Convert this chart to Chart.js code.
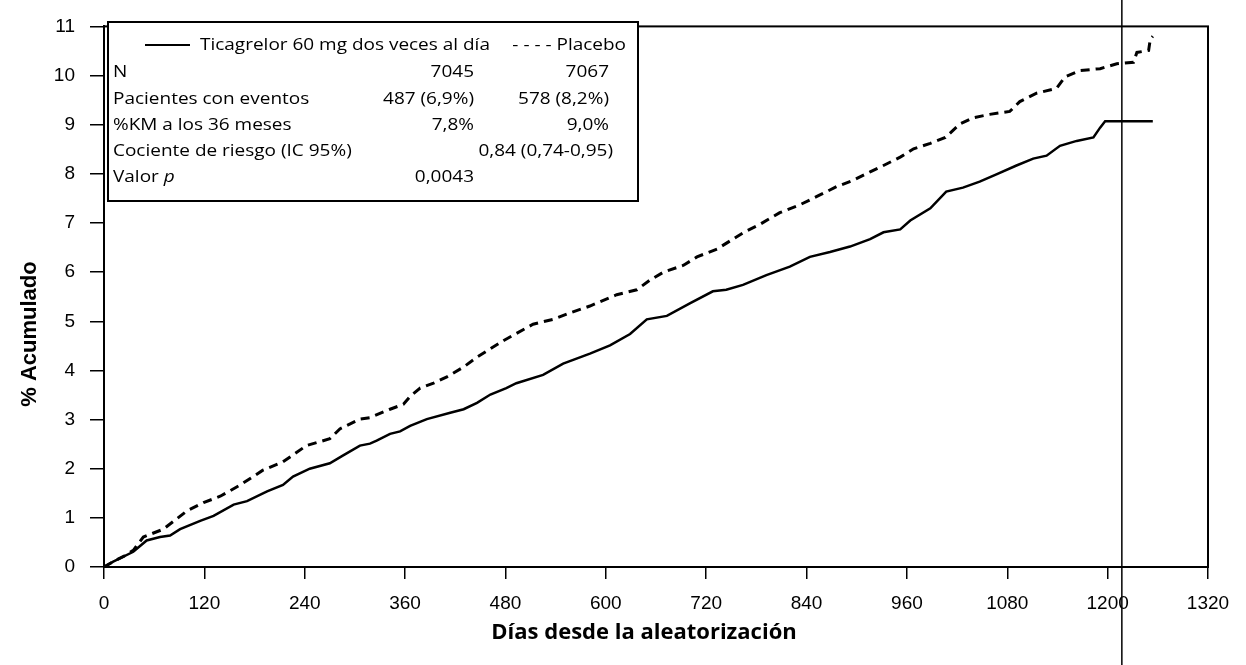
<!DOCTYPE html>
<html>
<head>
<meta charset="utf-8">
<script src="https://cdn.jsdelivr.net/npm/chart.js@4/dist/chart.umd.min.js"></script>
<style>
  html, body { margin: 0; padding: 0; background: #fff; }
  #wrap { width: 1246px; height: 665px; position: relative; }
</style>
</head>
<body>
<div id="wrap"><canvas id="km"></canvas></div>
<script>
// Ticagrelor 60 mg (solid) - days and cumulative %
const ticaDays = [0, 11, 35, 51, 67, 79, 91, 115, 131, 155, 171, 195, 214, 226, 246, 270, 286, 306, 318, 326, 342, 354, 366, 386, 414, 430, 446, 462, 481, 493, 525, 549, 581, 605, 629, 649, 673, 701, 728, 744, 764, 792, 820, 844, 868, 892, 916, 932, 952, 964, 988, 1007, 1027, 1047, 1067, 1091, 1111, 1127, 1143, 1163, 1183, 1191, 1197, 1254];
const ticaPct = [0, 0.11, 0.31, 0.54, 0.61, 0.64, 0.77, 0.94, 1.04, 1.27, 1.34, 1.54, 1.67, 1.84, 2.0, 2.11, 2.27, 2.47, 2.51, 2.57, 2.71, 2.76, 2.87, 3.01, 3.14, 3.21, 3.34, 3.51, 3.64, 3.74, 3.91, 4.14, 4.34, 4.51, 4.74, 5.04, 5.11, 5.37, 5.61, 5.64, 5.74, 5.94, 6.11, 6.31, 6.41, 6.52, 6.67, 6.81, 6.87, 7.05, 7.3, 7.64, 7.72, 7.84, 7.99, 8.17, 8.31, 8.37, 8.57, 8.67, 8.74, 8.94, 9.07, 9.07];

// Placebo (dashed)
const placDays = [0, 11, 24, 35, 47, 71, 99, 119, 139, 163, 190, 214, 242, 270, 282, 306, 318, 342, 358, 366, 378, 394, 410, 430, 446, 462, 478, 513, 537, 557, 581, 613, 637, 653, 669, 693, 709, 733, 765, 784, 808, 832, 856, 876, 896, 916, 932, 952, 968, 988, 1006, 1023, 1039, 1059, 1083, 1095, 1115, 1139, 1149, 1167, 1191, 1211, 1231, 1235, 1249, 1251, 1254];
const placPct = [0, 0.11, 0.22, 0.34, 0.61, 0.77, 1.14, 1.31, 1.44, 1.67, 1.97, 2.14, 2.47, 2.61, 2.81, 3.01, 3.04, 3.21, 3.31, 3.47, 3.64, 3.74, 3.87, 4.07, 4.27, 4.44, 4.61, 4.94, 5.04, 5.17, 5.31, 5.54, 5.64, 5.84, 6.0, 6.14, 6.31, 6.47, 6.81, 6.97, 7.21, 7.37, 7.57, 7.74, 7.87, 8.04, 8.17, 8.34, 8.51, 8.62, 8.74, 9.01, 9.14, 9.21, 9.27, 9.47, 9.64, 9.74, 9.97, 10.1, 10.14, 10.24, 10.27, 10.47, 10.51, 10.74, 10.8];

const xTicks = [0, 120, 240, 360, 480, 600, 720, 840, 960, 1080, 1200, 1320];
const yTicks = [0, 1, 2, 3, 4, 5, 6, 7, 8, 9, 10, 11];

const seriesNames = ['Ticagrelor 60 mg dos veces al día', 'Placebo'];
// legend table rows: label, ticagrelor column, placebo column
const rowLabels = ['N', 'Pacientes con eventos', '%KM a los 36 meses', 'Cociente de riesgo (IC 95%)', 'Valor '];
const rowTica = ['7045', '487 (6,9%)', '7,8%', '', '0,0043'];
const rowPlac = ['7067', '578 (8,2%)', '9,0%', '0,84 (0,74-0,95)', ''];

const scanLineDay = 1217;

const toPoints = (xs, ys) => xs.map((d, i) => ({ x: d, y: ys[i] }));

const tickFont = { family: '"Liberation Sans", Arial, sans-serif', size: 19 };
const boxFont = '16.5px "Open Sans", sans-serif';
const SX = 1.15; // the box text is set wide

function wideText(ctx, s, x, y, align, font) {
  ctx.save();
  ctx.font = font || boxFont;
  ctx.translate(x, y);
  ctx.scale(SX, 1);
  ctx.textAlign = align;
  ctx.fillText(s, 0, 0);
  const w = ctx.measureText(s).width * SX;
  ctx.restore();
  return w;
}

const extras = {
  id: 'extras',
  afterDraw(chart) {
    const ctx = chart.ctx;
    const a = chart.chartArea;
    ctx.save();
    // frame around the plot
    ctx.strokeStyle = '#000';
    ctx.lineWidth = 2;
    ctx.strokeRect(a.left, a.top, a.right - a.left, a.bottom - a.top);

    // stray vertical line from the scan
    const sx = chart.scales.x.getPixelForValue(scanLineDay);
    ctx.lineWidth = 1.5;
    ctx.beginPath();
    ctx.moveTo(sx, 0);
    ctx.lineTo(sx, chart.height);
    ctx.stroke();

    // legend / stats box
    const bx = 108, by = 22, bw = 530, bh = 179;
    ctx.fillStyle = '#fff';
    ctx.fillRect(bx, by, bw, bh);
    ctx.lineWidth = 2;
    ctx.strokeRect(bx, by, bw, bh);

    ctx.fillStyle = '#000';
    ctx.textBaseline = 'middle';

    // header row
    const hy = 45;
    ctx.lineWidth = 2;
    ctx.beginPath();
    ctx.moveTo(145, hy);
    ctx.lineTo(190, hy);
    ctx.stroke();
    wideText(ctx, seriesNames[0], 200, hy, 'left');
    wideText(ctx, '- - - - ' + seriesNames[1], 626, hy, 'right');

    const rowY = [72, 99, 125, 151, 177];
    rowLabels.forEach((lab, i) => {
      const y = rowY[i];
      const w = wideText(ctx, lab, 113, y, 'left');
      if (i === 4) wideText(ctx, 'p', 113 + w, y, 'left', 'italic ' + boxFont);
      if (rowTica[i]) wideText(ctx, rowTica[i], 474, y, 'right');
      if (rowPlac[i]) wideText(ctx, rowPlac[i], i === 3 ? 613 : 609, y, 'right');
    });

    // axis titles
    ctx.textAlign = 'center';
    ctx.font = 'bold 22px "Open Sans", sans-serif';
    ctx.fillText('Días desde la aleatorización', 644, 633);

    ctx.translate(30, 334);
    ctx.rotate(-Math.PI / 2);
    ctx.font = 'bold 22px "Liberation Sans", Arial, sans-serif';
    ctx.fillText('% Acumulado', 0, 0);
    ctx.restore();
  }
};

new Chart(document.getElementById('km'), {
  type: 'line',
  data: {
    datasets: [
      {
        label: seriesNames[0],
        data: toPoints(ticaDays, ticaPct),
        borderColor: '#000',
        borderWidth: 2.5,
        pointRadius: 0,
        tension: 0,
        fill: false
      },
      {
        label: seriesNames[1],
        data: toPoints(placDays, placPct),
        borderColor: '#000',
        borderWidth: 3,
        borderDash: [9, 6],
        pointRadius: 0,
        tension: 0,
        fill: false
      }
    ]
  },
  options: {
    responsive: true,
    maintainAspectRatio: false,
    animation: false,
    layout: { padding: { left: 0, top: 17, right: 38, bottom: 0 } },
    plugins: {
      legend: { display: false },
      tooltip: { enabled: false }
    },
    scales: {
      x: {
        type: 'linear',
        min: 0,
        max: 1320,
        afterBuildTicks: s => { s.ticks = xTicks.map(v => ({ value: v })); },
        afterFit: s => { s.height = 98; },
        ticks: { color: '#000', font: tickFont, padding: 13, maxRotation: 0, callback: v => String(v) },
        grid: { drawOnChartArea: false, drawTicks: true, tickLength: 12, color: '#000', lineWidth: 1.5 },
        border: { color: '#000', width: 2 }
      },
      y: {
        min: 0,
        max: 11,
        afterBuildTicks: s => { s.ticks = yTicks.map(v => ({ value: v })); },
        afterFit: s => { s.width = 104; },
        ticks: { color: '#000', font: tickFont, padding: 15, callback: v => String(v) },
        grid: { drawOnChartArea: false, drawTicks: true, tickLength: 14, color: '#000', lineWidth: 1.5 },
        border: { color: '#000', width: 2 }
      }
    }
  },
  plugins: [extras]
});
</script>
</body>
</html>
